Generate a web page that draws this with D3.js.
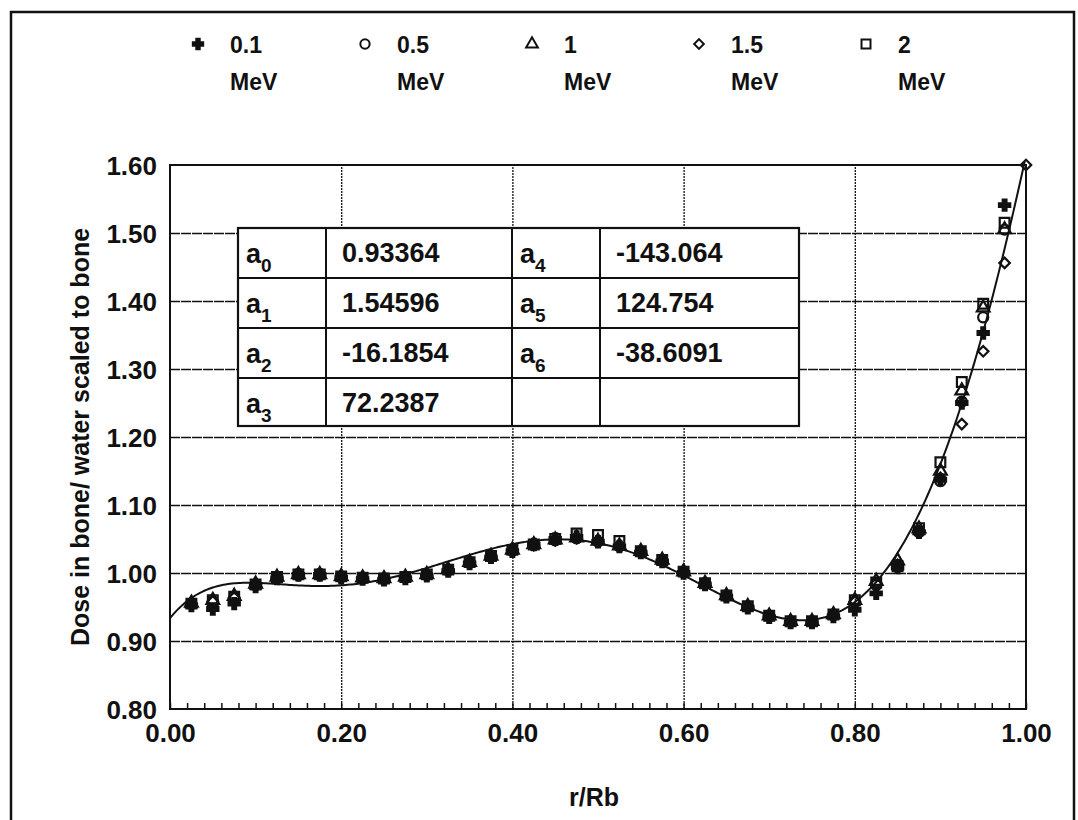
<!DOCTYPE html>
<html>
<head>
<meta charset="utf-8">
<script src="https://cdn.jsdelivr.net/npm/d3@7"></script>
<style>
  body { margin: 0; background: #fff; }
  text { font-family: "Liberation Sans", Arial, Helvetica, sans-serif; font-weight: bold; fill: #111; }
</style>
</head>
<body>
<svg id="chart" width="1078" height="820"></svg>
<script>
// Radial position r/Rb of each scored ring
const radius = [0.025,0.05,0.075,0.1,0.125,0.15,0.175,0.2,0.225,0.25,0.275,0.3,0.325,0.35,0.375,0.4,
  0.425,0.45,0.475,0.5,0.525,0.55,0.575,0.6,0.625,0.65,0.675,0.7,0.725,0.75,0.775,0.8,
  0.825,0.85,0.875,0.9,0.925,0.95,0.975,1.0];

// Dose in bone / water scaled to bone, one list per photon energy
const dose01 = [0.952,0.947,0.955,0.980,0.992,0.997,0.997,0.993,0.991,0.990,0.992,0.996,1.003,1.014,1.023,1.032,
  1.042,1.050,1.053,1.046,1.039,1.030,1.017,1.000,0.983,0.965,0.949,0.935,0.927,0.927,0.936,0.946,
  0.970,1.008,1.060,1.137,1.250,1.353,1.541,null];
const dose05 = [0.955,0.958,0.963,0.982,0.992,0.997,0.997,0.994,0.992,0.991,0.993,0.997,1.004,1.015,1.024,1.033,
  1.041,1.048,1.051,1.046,1.039,1.031,1.018,1.001,0.984,0.966,0.950,0.936,0.928,0.928,0.938,0.957,
  0.982,1.012,1.060,1.135,1.252,1.376,1.505,null];
const dose1 = [0.956,0.960,0.966,0.984,0.994,0.998,0.998,0.995,0.993,0.992,0.994,0.998,1.005,1.016,1.025,1.034,
  1.042,1.049,1.052,1.047,1.040,1.032,1.019,1.002,0.985,0.967,0.951,0.937,0.929,0.929,0.939,0.960,
  0.988,1.018,1.065,1.150,1.268,1.390,1.505,null];
const dose15 = [0.955,0.958,0.964,0.983,0.993,0.997,0.997,0.994,0.992,0.991,0.993,0.997,1.004,1.015,1.024,1.033,
  1.041,1.048,1.051,1.046,1.039,1.031,1.018,1.001,0.984,0.966,0.950,0.936,0.928,0.928,0.938,0.958,
  0.985,1.012,1.062,1.140,1.219,1.326,1.456,1.600];
const dose2 = [0.955,0.960,0.965,0.983,0.994,0.998,0.998,0.995,0.993,0.992,0.994,0.998,1.005,1.016,1.025,1.034,
  1.042,1.050,1.058,1.056,1.047,1.032,1.019,1.002,0.985,0.967,0.951,0.937,0.929,0.929,0.939,0.960,
  0.986,1.010,1.066,1.163,1.281,1.396,1.515,null];

const energyLabels = ["0.1", "0.5", "1", "1.5", "2"];
const energyUnit = "MeV";

// Sixth-order fit coefficients a0..a6
const coefNames = ["a0","a1","a2","a3","a4","a5","a6"];
const coefValues = [0.93364, 1.54596, -16.1854, 72.2387, -143.064, 124.754, -38.6091];
const coefText = ["0.93364","1.54596","-16.1854","72.2387","-143.064","124.754","-38.6091"];

const xTicks = [0, 0.2, 0.4, 0.6, 0.8, 1.0];
const yTicks = [0.8, 0.9, 1.0, 1.1, 1.2, 1.3, 1.4, 1.5, 1.6];

const svg = d3.select("#chart");
const L = 170, R = 1026, T = 165, B = 709;
const x = d3.scaleLinear().domain([0, 1]).range([L, R]);
const y = d3.scaleLinear().domain([0.8, 1.6]).range([B, T]);

// outer frame
svg.append("path").attr("d", `M11,830 L11,12 L1074,12 L1074,830`)
  .attr("fill", "none").attr("stroke", "#111").attr("stroke-width", 2.5);

// gridlines
svg.append("g").attr("transform", `translate(0,${B})`)
  .call(d3.axisBottom(x).tickValues(xTicks.slice(1, -1)).tickSize(-(B - T)).tickFormat(""))
  .call(g => g.select(".domain").remove())
  .call(g => g.selectAll("line").attr("stroke", "#111").attr("stroke-width", 1.3).attr("stroke-dasharray", "2,1"));
svg.append("g").attr("transform", `translate(${L},0)`)
  .call(d3.axisLeft(y).tickValues(yTicks.slice(1, -1)).tickSize(-(R - L)).tickFormat(""))
  .call(g => g.select(".domain").remove())
  .call(g => g.selectAll("line").attr("stroke", "#111").attr("stroke-width", 1.4).attr("stroke-dasharray", "10,1"));

// minor ticks along the bottom axis
svg.append("g").attr("transform", `translate(0,${B})`)
  .call(d3.axisBottom(x).ticks(50).tickSize(-6).tickFormat(""))
  .call(g => g.select(".domain").remove())
  .call(g => g.selectAll("line").attr("stroke", "#111").attr("stroke-width", 1.5));

// plot frame
svg.append("rect").attr("x", L).attr("y", T).attr("width", R - L).attr("height", B - T)
  .attr("fill", "none").attr("stroke", "#111").attr("stroke-width", 2);

// tick labels
svg.append("g").attr("transform", `translate(0,${B})`)
  .call(d3.axisBottom(x).tickValues(xTicks).tickSize(0).tickPadding(15).tickFormat(d3.format(".2f")))
  .call(g => g.select(".domain").remove())
  .call(g => g.selectAll("text").attr("font-size", 26).attr("font-family", null).attr("fill", "#111"));
svg.append("g").attr("transform", `translate(${L - 13},1)`)
  .call(d3.axisLeft(y).tickValues(yTicks).tickSize(0).tickPadding(0).tickFormat(d3.format(".2f")))
  .call(g => g.select(".domain").remove())
  .call(g => g.selectAll("text").attr("font-size", 26).attr("font-family", null).attr("fill", "#111"));

// axis titles
svg.append("text").attr("transform", "translate(89,437) rotate(-90)")
  .attr("text-anchor", "middle").attr("font-size", 25).text("Dose in bone/ water scaled to bone");
svg.append("text").attr("x", 594).attr("y", 806).attr("text-anchor", "middle")
  .attr("font-size", 25).text("r/Rb");

// fitted polynomial
const poly = r => coefValues.reduce((s, a, k) => s + a * Math.pow(r, k), 0);
const fit = d3.range(0, 1.0001, 0.0025).map(r => [r, poly(r)]);
svg.append("defs").append("clipPath").attr("id", "plotClip")
  .append("rect").attr("x", L).attr("y", T - 3).attr("width", R - L + 6).attr("height", B - T + 3);
svg.append("path").datum(fit)
  .attr("clip-path", "url(#plotClip)")
  .attr("d", d3.line().x(d => x(d[0])).y(d => y(d[1])).curve(d3.curveLinear))
  .attr("fill", "none").attr("stroke", "#111").attr("stroke-width", 2);

// marker styles per energy
const markers = [
  { data: dose01, type: d3.symbolCross, size: 70, fill: "#111", rot: 0 },
  { data: dose05, type: d3.symbolCircle, size: 80, fill: "none", rot: 0 },
  { data: dose1, type: d3.symbolTriangle, size: 70, fill: "none", rot: 0 },
  { data: dose15, type: d3.symbolSquare, size: 55, fill: "none", rot: 45 },
  { data: dose2, type: d3.symbolSquare, size: 95, fill: "none", rot: 0 }
];

markers.forEach(m => {
  const pts = radius.map((r, i) => [r, m.data[i]]).filter(d => d[1] != null);
  svg.append("g").selectAll("path").data(pts).join("path")
    .attr("transform", d => `translate(${x(d[0])},${y(d[1])}) rotate(${m.rot})`)
    .attr("d", d3.symbol().type(m.type).size(m.size))
    .attr("fill", m.fill).attr("stroke", "#111").attr("stroke-width", 2.2);
});

// legend
const legend = svg.append("g");
energyLabels.forEach((lab, i) => {
  const mx = 198 + i * 167;
  const m = markers[i];
  legend.append("path")
    .attr("transform", `translate(${mx},44) rotate(${m.rot})`)
    .attr("d", d3.symbol().type(m.type).size(m.size * 0.85))
    .attr("fill", m.fill).attr("stroke", "#111").attr("stroke-width", 2);
  legend.append("text").attr("x", mx + 32).attr("y", 53).attr("font-size", 23).text(lab);
  legend.append("text").attr("x", mx + 32).attr("y", 90).attr("font-size", 23).text(energyUnit);
});

// coefficient table
const colX = [238, 326, 512, 600, 799];
const rowY = [228, 278, 328, 378, 426];
const tbl = svg.append("g");
tbl.append("rect").attr("x", colX[0]).attr("y", rowY[0])
  .attr("width", colX[4] - colX[0]).attr("height", rowY[4] - rowY[0])
  .attr("fill", "#fff").attr("stroke", "#111").attr("stroke-width", 2.2);
rowY.slice(1, -1).forEach(ry => tbl.append("line").attr("x1", colX[0]).attr("x2", colX[4])
  .attr("y1", ry).attr("y2", ry).attr("stroke", "#111").attr("stroke-width", 2));
colX.slice(1, -1).forEach(cx => tbl.append("line").attr("x1", cx).attr("x2", cx)
  .attr("y1", rowY[0]).attr("y2", rowY[4]).attr("stroke", "#111").attr("stroke-width", 2));

coefNames.forEach((name, k) => {
  const col = k < 4 ? 0 : 2;
  const row = k < 4 ? k : k - 4;
  const cellTop = rowY[row];
  const t = tbl.append("text").attr("x", colX[col] + 8).attr("y", cellTop + 35).attr("font-size", 27);
  t.append("tspan").text(name[0]);
  t.append("tspan").attr("dy", 9).attr("font-size", 19).text(name.slice(1));
  tbl.append("text").attr("x", colX[col + 1] + 16).attr("y", cellTop + 34)
    .attr("font-size", 27).text(coefText[k]);
});
</script>
</body>
</html>
